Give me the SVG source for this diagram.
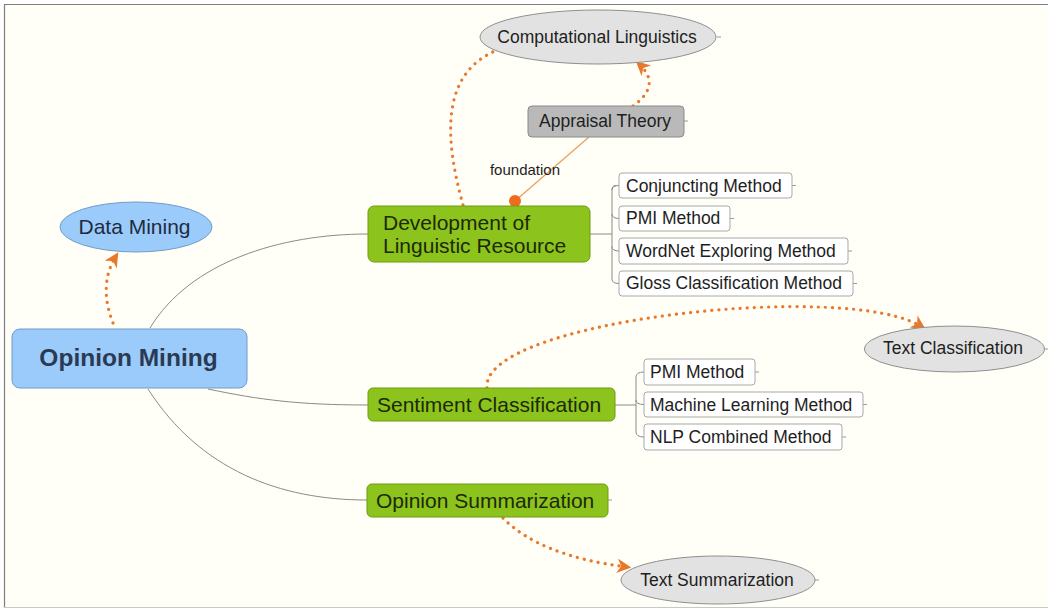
<svg xmlns="http://www.w3.org/2000/svg" width="1048" height="610" viewBox="0 0 1048 610">
<defs>
<style>
text{font-family:"Liberation Sans",Arial,sans-serif;fill:#1e1e1e}
.green{fill:#8cc31c;stroke:#6f9c12;stroke-width:1}
.blue{fill:#9bcbfa;stroke:#6f9cc9;stroke-width:1}
.gray{fill:#e2e2e2;stroke:#8f8f8f;stroke-width:1}
.dgray{fill:#b9b9b9;stroke:#8a8a8a;stroke-width:1}
.box{fill:#ffffff;stroke:#a8a8a8;stroke-width:1}
.branch{fill:none;stroke:#8a8a8a;stroke-width:1}
.tick{fill:none;stroke:#9a9a9a;stroke-width:1}
.dot{fill:none;stroke:#e8782a;stroke-width:3.2;stroke-linecap:round;stroke-dasharray:0.1 7}
.gt{font-size:21px;fill:#1c2a08}
.ct{font-size:17.5px}
.et{font-size:17.5px}
</style>
<marker id="arr" viewBox="0 0 10 10" refX="7" refY="5" markerWidth="4.5" markerHeight="4.5" orient="auto" markerUnits="strokeWidth">
<path d="M0,0 L10,5 L0,10 L3,5 Z" fill="#e8782a"/>
</marker>
</defs>
<rect x="0" y="0" width="1048" height="610" fill="#ffffff"/>
<rect x="4.5" y="4.5" width="1044" height="603" fill="#fffef7"/>
<path d="M1048,4.5 H4.5 V607.5" fill="none" stroke="#7f7f7f" stroke-width="1.2"/>
<path d="M4.5,607.5 H1048" fill="none" stroke="#c8c8c8" stroke-width="1.2"/>

<g id="connectors">
<path class="branch" d="M150,328 C190,262 280,234 368,234"/>
<path class="branch" d="M208,389 C260,400 300,405 368,405"/>
<path class="branch" d="M148,389 C200,470 280,500 367,500"/>
<path class="branch" d="M590,234 H612 M616,185.5 Q612,185.5 612,190 V279 Q612,283.5 619,283.5 M612,190 Q612,185.5 619,185.5 M612,214 Q612,218.5 619,218.5 M612,246.5 Q612,251 619,251"/>
<path class="branch" d="M615,405 H636 M636,377 Q636,372 644,372 M636,377 V432 Q636,437 644,437 M636,400 Q636,404.5 644,404.5"/>
<line x1="589" y1="137" x2="515" y2="201" stroke="#e8a060" stroke-width="1.2"/>
<circle cx="515" cy="201" r="6" fill="#ef6c1e"/>
<path class="dot" d="M113,323 Q98,285 116,256" marker-end="url(#arr)"/>
<path class="dot" d="M463,205 C445,140 440,75 495,51"/>
<path class="dot" d="M633,106 Q662,85 639,64" marker-end="url(#arr)"/>
<path class="dot" d="M487,388 C480,320 850,280 922,327" marker-end="url(#arr)"/>
<path class="dot" d="M503,518 Q540,556 627,567" marker-end="url(#arr)"/>
<path class="tick" d="M717,37 H721 M684,121 H688 M792,185.5 H796 M730,218.5 H734 M848,251 H852 M853,283.5 H857 M755,372 H759 M863,404.5 H867 M842,437 H846 M608,500 H612 M815,580 H819 M1045,349 H1048"/>
</g>

<g id="opinion-mining">
<rect class="blue" x="12" y="329" width="235" height="59" rx="8"/>
<text x="128.5" y="366" text-anchor="middle" font-size="24.5" font-weight="bold" style="fill:#2b3a52">Opinion Mining</text>
</g>
<g id="data-mining">
<ellipse class="blue" cx="136" cy="227" rx="76" ry="25"/>
<text x="134.5" y="234" text-anchor="middle" font-size="21" style="fill:#1f2c40">Data Mining</text>
</g>
<g id="computational-linguistics">
<ellipse class="gray" cx="598" cy="37" rx="118" ry="27"/>
<text class="et" x="597" y="43" text-anchor="middle">Computational Linguistics</text>
</g>
<g id="appraisal-theory">
<rect class="dgray" x="528" y="106" width="156" height="31" rx="4"/>
<text class="et" x="605" y="127" text-anchor="middle">Appraisal Theory</text>
</g>
<g id="foundation-label">
<text x="525" y="175" text-anchor="middle" font-size="15">foundation</text>
</g>
<g id="development">
<rect class="green" x="368" y="206" width="222" height="56" rx="6"/>
<text class="gt" x="383" y="230">Development of</text>
<text class="gt" x="383" y="253">Linguistic Resource</text>
</g>
<g id="conjuncting">
<rect class="box" x="619" y="173" width="173" height="25" rx="3"/>
<text class="ct" x="626" y="192">Conjuncting Method</text>
</g>
<g id="pmi-1">
<rect class="box" x="619" y="206" width="111" height="25" rx="3"/>
<text class="ct" x="626" y="224">PMI Method</text>
</g>
<g id="wordnet">
<rect class="box" x="619" y="238" width="229" height="26" rx="3"/>
<text class="ct" x="626" y="257">WordNet Exploring Method</text>
</g>
<g id="gloss">
<rect class="box" x="619" y="271" width="234" height="25" rx="3"/>
<text class="ct" x="626" y="289">Gloss Classification Method</text>
</g>
<g id="text-classification">
<ellipse class="gray" cx="954.5" cy="349" rx="90" ry="23"/>
<text class="et" x="953" y="354" text-anchor="middle">Text Classification</text>
</g>
<g id="sentiment">
<rect class="green" x="368" y="388" width="247" height="33" rx="5"/>
<text class="gt" x="377" y="412">Sentiment Classification</text>
</g>
<g id="pmi-2">
<rect class="box" x="644" y="359" width="111" height="26" rx="3"/>
<text class="ct" x="650" y="378">PMI Method</text>
</g>
<g id="machine-learning">
<rect class="box" x="644" y="392" width="219" height="25" rx="3"/>
<text class="ct" x="650" y="411">Machine Learning Method</text>
</g>
<g id="nlp-combined">
<rect class="box" x="644" y="424" width="198" height="26" rx="3"/>
<text class="ct" x="650" y="443">NLP Combined Method</text>
</g>
<g id="opinion-summarization">
<rect class="green" x="367" y="484" width="241" height="33" rx="5"/>
<text class="gt" x="376" y="508">Opinion Summarization</text>
</g>
<g id="text-summarization">
<ellipse class="gray" cx="718" cy="580" rx="97" ry="24"/>
<text class="et" x="717" y="586" text-anchor="middle">Text Summarization</text>
</g>
</svg>
